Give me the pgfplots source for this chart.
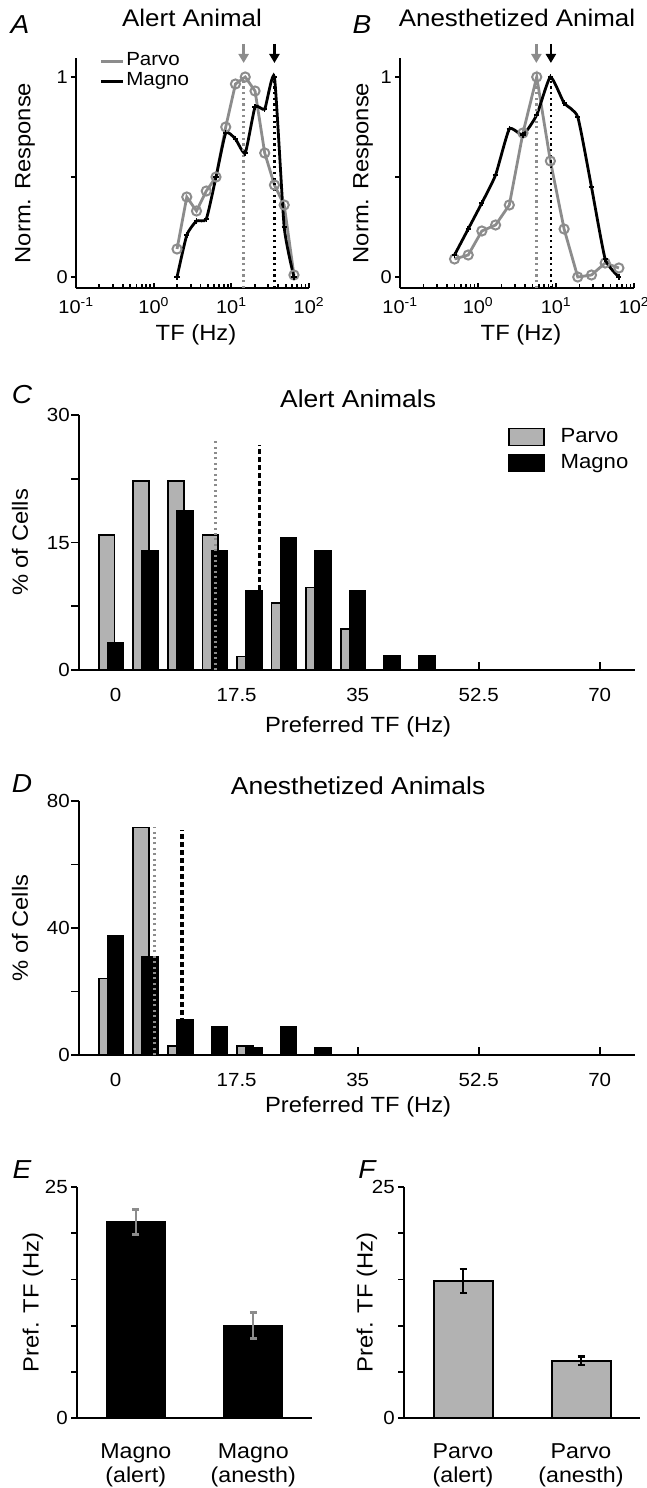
\documentclass[border=0pt]{standalone}
\usepackage{pgfplots}
\pgfplotsset{compat=1.18}
\usepackage{fontspec}
\setmainfont{Liberation Sans}[FakeStretch=1.08]
\usetikzlibrary{arrows.meta}
\definecolor{pgray}{RGB}{140,140,140}
\definecolor{bgray}{RGB}{178,178,178}
\definecolor{dgray}{RGB}{140,140,140}
\newcommand{\fs}[1]{\fontsize{#1}{#1}\selectfont}
\pgfplotsset{
  linelegend/.style={legend image code/.code={\draw[##1] (0pt,0pt) -- (22pt,0pt);}},
  boxlegend/.style={legend image code/.code={\draw[##1,/tikz/.cd] (0pt,-8.5pt) rectangle (35pt,8.5pt);}},
}

\begin{document}
\begin{tikzpicture}
\path[use as bounding box] (0pt,0pt) rectangle (647pt,-1488pt);

% ---------------- Panel A ----------------
\begin{axis}[at={(76pt,-288pt)}, anchor=south west,
  scale only axis, width=233pt, height=230pt,
  axis x line*=bottom, axis y line*=left,
  axis line style={line width=2.4pt},
  tick align=inside, tick style={line width=1.8pt, black},
  major tick length=5pt, minor tick length=4pt,
  y tick style={xshift=-5pt},
  clip=false,
  xmode=log, xmin=0.1, xmax=100, ymin=-0.055, ymax=1.095,
  xtick={0.1,1,10,100},
  xticklabels={10\textsuperscript{-1},10\textsuperscript{0},10\textsuperscript{1},10\textsuperscript{2}},
  ytick={0,0.5,1}, yticklabels={0,,1},
  tick label style={font=\fs{18.5}},
  yticklabel style={inner sep=0pt, anchor=east, text height=13pt, text depth=0pt, xshift=-8pt},
  xticklabel style={inner sep=0pt, anchor=north, text height=13pt, text depth=0pt, yshift=-12pt},
  xlabel={TF (Hz)}, ylabel={Norm. Response},
  label style={font=\fs{22}},
  xlabel style={at={(axis description cs:0.515,-0.204)}, anchor=center},
  ylabel style={at={(axis description cs:-0.219,0.5)}, anchor=center},
  title={Alert Animal},
  title style={font=\fs{24}, at={(axis description cs:0.498,1.148)}, anchor=center},
  legend style={at={(axis description cs:0.1,1.03)}, anchor=north west, draw=none, fill=none,
    inner sep=0pt, row sep=0pt, column sep=1pt,
    nodes={font=\fs{19}, inner sep=1pt, text height=13.5pt, text depth=4.5pt}},
  legend cell align=left, linelegend,
]
\addplot[pgray, line width=2.8pt, mark=o, mark size=4.6pt, mark options={line width=2pt}]
  coordinates {(2,0.14)(2.67,0.40)(3.56,0.33)(4.76,0.43)(6.35,0.50)(8.47,0.75)(11.3,0.965)(15.1,1.0)(20.2,0.93)(26.9,0.62)(35.9,0.46)(47.9,0.36)(64,0.01)};
\addlegendentry{Parvo}
\addplot[black, line width=2.8pt, smooth, tension=0.3, mark=+, mark size=2.6pt, mark options={line width=1.5pt}]
  coordinates {(2,0)(2.67,0.21)(3.56,0.28)(4.76,0.29)(6.35,0.50)(8.47,0.72)(11.3,0.69)(15.1,0.62)(20.2,0.85)(26.9,0.84)(35.9,1.0)(47.9,0.25)(64,0)};
\addlegendentry{Magno}
\addplot[dgray, line width=2.4pt, dash pattern=on 2.2pt off 3.5pt, forget plot] coordinates {(14.4,-0.055)(14.4,1)};
\addplot[black, line width=2.4pt, dash pattern=on 2.2pt off 3.5pt, forget plot] coordinates {(35.9,-0.055)(35.9,1)};
\addplot[pgray, line width=2.4pt, -{Triangle[width=10pt,length=9pt]}, forget plot] coordinates {(14.4,1.165)(14.4,1.07)};
\addplot[black, line width=2.4pt, -{Triangle[width=10pt,length=9pt]}, forget plot] coordinates {(35.9,1.165)(35.9,1.07)};
\end{axis}

% ---------------- Panel B ----------------
\begin{axis}[at={(400pt,-288pt)}, anchor=south west,
  scale only axis, width=234pt, height=230pt,
  axis x line*=bottom, axis y line*=left,
  axis line style={line width=2.4pt},
  tick align=inside, tick style={line width=1.8pt, black},
  major tick length=5pt, minor tick length=4pt,
  y tick style={xshift=-5pt},
  clip=false,
  xmode=log, xmin=0.1, xmax=100, ymin=-0.055, ymax=1.095,
  xtick={0.1,1,10,100},
  xticklabels={10\textsuperscript{-1},10\textsuperscript{0},10\textsuperscript{1},10\textsuperscript{2}},
  ytick={0,0.5,1}, yticklabels={0,,1},
  tick label style={font=\fs{18.5}},
  yticklabel style={inner sep=0pt, anchor=east, text height=13pt, text depth=0pt, xshift=-8pt},
  xticklabel style={inner sep=0pt, anchor=north, text height=13pt, text depth=0pt, yshift=-12pt},
  xlabel={TF (Hz)}, ylabel={Norm. Response},
  label style={font=\fs{22}},
  xlabel style={at={(axis description cs:0.517,-0.204)}, anchor=center},
  ylabel style={at={(axis description cs:-0.158,0.5)}, anchor=center},
  title={Anesthetized Animal},
  title style={font=\fs{24}, at={(axis description cs:0.5,1.148)}, anchor=center},
]
\addplot[pgray, line width=2.8pt, mark=o, mark size=4.6pt, mark options={line width=2pt}]
  coordinates {(0.5,0.09)(0.749,0.11)(1.12,0.23)(1.68,0.26)(2.52,0.36)(3.77,0.72)(5.66,1.0)(8.47,0.58)(12.7,0.24)(19,0.0)(28.5,0.01)(42.7,0.07)(64,0.045)};
\addplot[black, line width=2.8pt, smooth, tension=0.3, mark=+, mark size=2.6pt, mark options={line width=1.5pt}]
  coordinates {(0.5,0.11)(0.749,0.24)(1.12,0.37)(1.68,0.51)(2.52,0.74)(3.77,0.71)(5.66,0.81)(8.47,1.0)(12.7,0.87)(19,0.80)(28.5,0.45)(42.7,0.09)(64,0.0)};
\addplot[dgray, line width=2.4pt, dash pattern=on 2.2pt off 3.5pt] coordinates {(5.6,-0.055)(5.6,1)};
\addplot[black, line width=2.4pt, dash pattern=on 2.2pt off 3.5pt] coordinates {(8.6,-0.055)(8.6,1)};
\addplot[pgray, line width=2.4pt, -{Triangle[width=10pt,length=9pt]}] coordinates {(5.6,1.165)(5.6,1.07)};
\addplot[black, line width=2.4pt, -{Triangle[width=10pt,length=9pt]}] coordinates {(8.6,1.165)(8.6,1.07)};
\end{axis}

% ---------------- Panel C ----------------
\begin{axis}[at={(79pt,-670pt)}, anchor=south west,
  scale only axis, width=556pt, height=255pt,
  axis x line*=bottom, axis y line*=left,
  axis line style={line width=2.4pt},
  tick align=inside, tick style={line width=1.8pt, black},
  major tick length=8pt,
  y tick style={xshift=-8pt},
  clip=false,
  xmin=-5.3, xmax=75.1, ymin=0, ymax=30,
  xtick={0,17.5,35,52.5,70}, xticklabels={0,17.5,35,52.5,70},
  ytick={0,7.5,15,22.5,30}, yticklabels={0,,15,,30},
  tick label style={font=\fs{19}},
  yticklabel style={inner sep=0pt, anchor=east, text height=13.5pt, text depth=0pt, xshift=-9pt},
  xticklabel style={inner sep=0pt, anchor=north, text height=13.5pt, text depth=0pt, yshift=-18pt},
  xlabel={Preferred TF (Hz)}, ylabel={\% of Cells},
  label style={font=\fs{22}},
  xlabel style={at={(axis description cs:0.502,-0.2235)}, anchor=center},
  ylabel style={at={(axis description cs:-0.106,0.5)}, anchor=center},
  title={Alert Animals},
  title style={font=\fs{24.5}, at={(axis description cs:0.502,1.039)}, anchor=center},
  legend style={at={(axis description cs:0.772,0.965)}, anchor=north west, draw=none, fill=none,
    inner sep=0pt, row sep=0pt, column sep=12pt,
    nodes={font=\fs{20.5}, inner sep=3.5pt, text height=14.5pt, text depth=4.5pt}},
  legend cell align=left, boxlegend,
]
\addplot[ybar, bar width=2.3, bar shift=0pt, fill=bgray, draw=black, line width=1.7pt]
  coordinates {(-1.3,15.9)(3.7,22.2)(8.7,22.2)(13.7,15.9)(18.7,1.6)(23.7,7.9)(28.7,9.7)(33.7,4.85)};
\addlegendentry{Parvo}
\addplot[ybar, bar width=2.3, bar shift=0pt, fill=black, draw=black, line width=1.7pt]
  coordinates {(0,3.2)(5,14.0)(10,18.7)(15,14.0)(20,9.3)(25,15.5)(30,14.0)(35,9.3)(40,1.7)(45,1.7)};
\addlegendentry{Magno}
\addplot[dgray, line width=2.6pt, dash pattern=on 2pt off 3.4pt, forget plot] coordinates {(14.4,0)(14.4,26.9)};
\addplot[black, line width=3.2pt, dash pattern=on 5pt off 3pt, forget plot] coordinates {(20.8,0)(20.8,26.5)};
\end{axis}

% ---------------- Panel D ----------------
\begin{axis}[at={(79pt,-1055pt)}, anchor=south west,
  scale only axis, width=556pt, height=254pt,
  axis x line*=bottom, axis y line*=left,
  axis line style={line width=2.4pt},
  tick align=inside, tick style={line width=1.8pt, black},
  major tick length=8pt,
  y tick style={xshift=-8pt},
  clip=false,
  xmin=-5.3, xmax=75.1, ymin=0, ymax=80,
  xtick={0,17.5,35,52.5,70}, xticklabels={0,17.5,35,52.5,70},
  ytick={0,20,40,60,80}, yticklabels={0,,40,,80},
  tick label style={font=\fs{19}},
  yticklabel style={inner sep=0pt, anchor=east, text height=13.5pt, text depth=0pt, xshift=-9pt},
  xticklabel style={inner sep=0pt, anchor=north, text height=13.5pt, text depth=0pt, yshift=-18pt},
  xlabel={Preferred TF (Hz)}, ylabel={\% of Cells},
  label style={font=\fs{22}},
  xlabel style={at={(axis description cs:0.502,-0.205)}, anchor=center},
  ylabel style={at={(axis description cs:-0.106,0.5)}, anchor=center},
  title={Anesthetized Animals},
  title style={font=\fs{24.5}, at={(axis description cs:0.502,1.035)}, anchor=center},
]
\addplot[ybar, bar width=2.3, bar shift=0pt, fill=bgray, draw=black, line width=1.7pt]
  coordinates {(-1.3,24.1)(3.7,71.7)(8.7,2.8)(18.7,2.8)};
\addplot[ybar, bar width=2.3, bar shift=0pt, fill=black, draw=black, line width=1.7pt]
  coordinates {(0,37.6)(5,31.0)(10,11.2)(15,8.9)(20,2.1)(25,8.9)(30,2.1)};
\addplot[dgray, line width=2.6pt, dash pattern=on 2pt off 3.4pt] coordinates {(5.65,0)(5.65,71.7)};
\addplot[black, line width=3.2pt, dash pattern=on 5pt off 3pt] coordinates {(9.6,0)(9.6,70.9)};
\end{axis}

% ---------------- Panel E ----------------
\begin{axis}[at={(77pt,-1418pt)}, anchor=south west,
  scale only axis, width=235pt, height=231pt,
  axis x line*=bottom, axis y line*=left,
  axis line style={line width=2.4pt},
  tick align=inside, tick style={line width=1.8pt, black},
  major tick length=6pt,
  y tick style={xshift=-6pt}, x tick style={draw=none},
  clip=false,
  xmin=0.5, xmax=2.5, ymin=0, ymax=25,
  xtick={1,2}, xticklabels={{Magno\\(alert)},{Magno\\(anesth)}},
  ytick={0,5,10,15,20,25}, yticklabels={0,,,,,25},
  yticklabel style={font=\fs{19}, inner sep=0pt, anchor=east, text height=13.5pt, text depth=0pt, xshift=-9pt},
  xticklabel style={align=center, font=\fontsize{21.5}{24}\selectfont, inner sep=0pt, anchor=north, yshift=-25pt},
  ylabel={Pref. TF (Hz)},
  label style={font=\fs{22}},
  ylabel style={at={(axis description cs:-0.187,0.5)}, anchor=center},
]
\addplot[ybar, bar width=0.5, bar shift=0pt, fill=black, draw=black, line width=1.6pt,
  error bars/.cd, y dir=both, y explicit,
  error bar style={dgray, line width=2.4pt},
  error mark options={dgray, rotate=90, mark size=3.5pt, line width=2.4pt}]
  coordinates {(1,21.2) +- (0,1.35) (2,10.0) +- (0,1.4)};
\end{axis}

% ---------------- Panel F ----------------
\begin{axis}[at={(404pt,-1418pt)}, anchor=south west,
  scale only axis, width=236pt, height=231pt,
  axis x line*=bottom, axis y line*=left,
  axis line style={line width=2.4pt},
  tick align=inside, tick style={line width=1.8pt, black},
  major tick length=6pt,
  y tick style={xshift=-6pt}, x tick style={draw=none},
  clip=false,
  xmin=0.5, xmax=2.5, ymin=0, ymax=25,
  xtick={1,2}, xticklabels={{Parvo\\(alert)},{Parvo\\(anesth)}},
  ytick={0,5,10,15,20,25}, yticklabels={0,,,,,25},
  yticklabel style={font=\fs{19}, inner sep=0pt, anchor=east, text height=13.5pt, text depth=0pt, xshift=-9pt},
  xticklabel style={align=center, font=\fontsize{21.5}{24}\selectfont, inner sep=0pt, anchor=north, yshift=-25pt},
  ylabel={Pref. TF (Hz)},
  label style={font=\fs{22}},
  ylabel style={at={(axis description cs:-0.157,0.5)}, anchor=center},
]
\addplot[ybar, bar width=0.5, bar shift=0pt, fill=bgray, draw=black, line width=2pt,
  error bars/.cd, y dir=both, y explicit,
  error bar style={black, line width=2.4pt},
  error mark options={black, rotate=90, mark size=3.5pt, line width=2.4pt}]
  coordinates {(1,14.8) +- (0,1.3) (2,6.2) +- (0,0.45)};
\end{axis}

% panel letters
\node[font=\fs{26}\itshape] at (20pt,-25pt) {A};
\node[font=\fs{26}\itshape] at (362pt,-25pt) {B};
\node[font=\fs{26}\itshape] at (22pt,-395pt) {C};
\node[font=\fs{26}\itshape] at (22pt,-784pt) {D};
\node[font=\fs{26}\itshape] at (22pt,-1170pt) {E};
\node[font=\fs{26}\itshape] at (367pt,-1170pt) {F};
\end{tikzpicture}
\end{document}
